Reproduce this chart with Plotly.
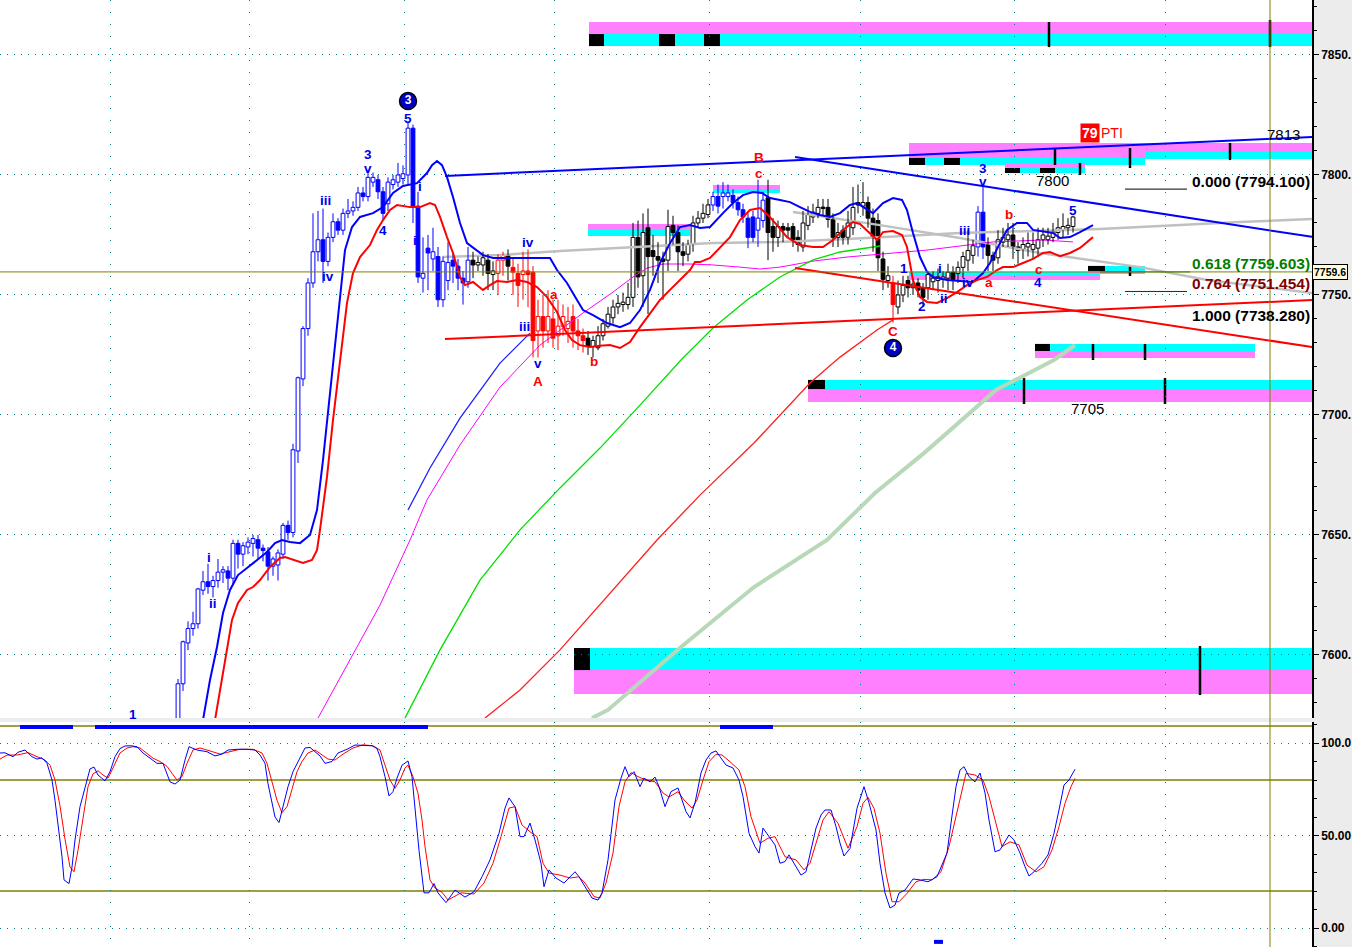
import plotly.graph_objects as go

FONT = "Liberation Sans, Arial, sans-serif"
BLUE, RED, BLACK = "#0000ff", "#ff0000", "#000000"
PINK, CYAN = "#ff80ff", "#00ffff"
OLIVE, TEAL = "#808000", "#008080"

# ---------------- candles (one bar every 5 time units) ----------------
bar_first, bar_step = 178, 5
opens = [7570,7588,7605,7611,7613,7627,7630.5,7628.5,7631,7634.5,
         7635,7632,7646.5,7642,7645,7646.5,7648,7644.5,7643,7637,
         7637.5,7642,7654,7651,7685,7715,7736,7755,7768,7773,
         7764,7774,7780.5,7777,7784,7785,7786.5,7792.5,7791,7797,
         7798,7793,7788,7796,7797,7798.5,7800,7819.5,7787,7757,
         7769.5,7765,7766,7748,7756,7764.5,7762,7757,7755.5,7764.5,
         7762.5,7762.5,7764.5,7758.5,7759,7764.5,7766.5,7761.5,7759,7758.5,
         7760,7759.5,7735,7741,7735,7740,7733,7737,7736,7741,
         7735,7733,7732,7728.5,7728,7733,7737,7740.5,7745,7746,
         7746,7749,7774,7758,7778,7768.5,7766,7765,7764.5,7779,
         7776,7768,7767,7771,7780,7782,7783.5,7787.5,7791,7791,
         7791,7791.5,7788.5,7785.5,7782,7782.5,7777,7781,7790.5,7778.5,
         7774,7778.5,7778,7778.5,7774,7770,7779,7782.5,7784,7786.5,
         7786.5,7781.5,7774,7777,7774,7778,7788.5,7787,7788.5,7782,
         7781,7765,7756,7755,7745,7750,7756,7753,7755,7753,
         7753,7755.5,7756,7756.5,7757,7759.5,7759,7761.5,7764.5,7766.5,
         7770,7784.5,7771,7766.5,7765.5,7772,7773,7775,7770,7769,
         7770,7769,7769.5,7773,7773,7774,7776,7777,7778,7778.5]
highs = [7590,7606,7614,7618,7628,7635,7638,7633,7640,7637,
         7637,7648,7648,7647,7649,7650,7650,7646,7645,7641,
         7644,7655,7656,7688,7716,7737,7757,7784,7785,7786,
         7776,7784,7782,7786,7790,7789,7795,7795,7802,7801,
         7800,7795,7799,7800,7805,7804,7822,7821,7793,7774,
         7775,7778,7770,7766,7772,7768,7765,7760,7770,7768,
         7766,7768,7767,7764,7767,7768,7769,7765,7763,7768,
         7769,7762,7748,7750,7752,7748,7748,7746,7745,7746,
         7740,7736,7735,7733,7737,7740,7745,7748,7750,7751,
         7755,7780,7781,7784,7786,7775,7772,7768,7785.5,7783,
         7779,7772,7773,7783,7785,7788,7790,7793,7796,7797,
         7796,7794,7791,7788,7784,7785,7798,7793,7798,7782,
         7781,7780,7780,7780,7777,7785,7787,7788,7790,7790,
         7790,7784,7780,7779,7785,7795,7796,7797,7791,7786,
         7784,7768,7762,7758,7756,7758,7758,7757,7757,7755,
         7760,7760,7761,7760,7763,7762,7764,7768,7777,7773,
         7787,7796,7774,7768,7777,7778,7780,7780,7772,7774,
         7776,7776,7778,7778,7778,7780,7782,7784,7782,7783]
lows = [7565,7585,7602,7608,7611,7625,7625.5,7624,7628,7630,
        7627,7629,7636,7637,7642,7641,7640,7639,7631,7633,
        7631,7640,7648,7649,7680,7712,7733,7753,7764,7755,
        7762,7772,7775,7775,7782,7783,7785,7789,7789,7795,
        7790,7781,7785,7794,7795,7796,7796,7780,7755,7751,
        7752,7760,7745,7745,7752,7755,7752,7746,7753,7757,
        7760,7758,7752,7752,7750,7758,7756,7750,7745,7748,
        7745,7724,7724,7728,7730,7728,7727,7733,7730,7728,
        7727,7726,7725,7724,7727,7731,7736,7738,7742,7743,
        7744,7745,7753,7745,7742,7758,7755,7748,7760,7771,
        7760,7762,7764,7768,7778,7780,7782,7785,7784,7786,
        7789,7786,7783,7780,7769.5,7772,7770,7778,7764.5,7768,
        7770,7772,7774,7770,7768,7768,7777,7780,7782,7783,
        7778,7770,7770,7771,7771,7775,7784,7783,7778,7768,
        7760,7752,7753,7738.5,7742,7747,7749,7750,7749,7745,
        7748,7752,7751,7753,7752,7752,7755,7757,7760,7763,
        7766,7765,7760,7760,7763,7770,7770,7765,7763,7765,
        7766,7765,7766,7770,7771,7772,7773,7774,7775,7776]
closes = [7588,7605.5,7611,7613,7627.5,7630.5,7628.5,7631,7634.5,7635.5,
          7632,7646.5,7642,7645.5,7647,7648.5,7644.5,7643.5,7637,7640,
          7642.5,7654,7651,7685.5,7715.5,7736,7755,7768,7773,7764,
          7774,7780.5,7777,7784,7785,7786.5,7792.5,7791,7799,7799,
          7793,7784,7797,7798,7800,7800.5,7819.5,7787,7757.5,7759,
          7767.5,7768,7748,7764,7763.5,7762,7757,7755,7764.5,7762.5,
          7763.5,7765.5,7759,7760,7764.5,7766.5,7762,7759.5,7754,7760,
          7758.5,7731,7741,7735,7741,7732,7737,7741,7739,7735,
          7733,7731,7728.5,7731,7733,7738,7742,7745,7746.5,7747,
          7749,7774,7757.5,7776,7766,7766,7764.5,7764,7778.5,7776,
          7768,7766.5,7771,7780,7782,7784,7787.5,7791,7787,7792.5,
          7792.5,7788.5,7785.5,7782.5,7774,7774,7782,7789.5,7776,7774,
          7778.5,7777,7777,7773,7771,7780,7783.5,7784.5,7786.5,7786,
          7781.5,7774,7776,7774,7780,7786.5,7787.5,7788.5,7782,7774,
          7765.5,7756.5,7758,7746,7750,7754,7753,7754.5,7752,7749,
          7758.5,7757,7757.5,7757.5,7759.5,7756.5,7761.5,7766,7768.5,7770.5,
          7784.5,7770,7766.5,7764.5,7773,7774,7775,7770,7768.5,7771,
          7771.5,7771,7773,7775,7774.5,7776.5,7778,7778.5,7779,7782.5]
color_runs = [("b", 59), ("k", 5), ("r", 2), ("k", 1), ("r", 15), ("k", 25),
              ("b", 11), ("k", 25), ("r", 1), ("k", 16), ("b", 2), ("k", 18)]

# ---------------- overlay lines (time, price) ----------------
upper_t = [203,210,217,223,230,238,247,257,267,275,282,290,300,310,317,323,330,335,340,345,
           352,360,373,383,393,403,417,427,432,437,442,447,453,460,467,477,483,493,507,527,
           550,557,567,577,583,593,607,620,630,640,650,660,670,680,690,700,710,723,733,743,
           753,762,770,780,790,800,810,820,830,840,850,857,863,873,883,893,902,907,913,920,
           927,933,947,960,973,983,990,1000,1007,1017,1027,1033,1043,1053,1060,1070,1080,1093]
upper_v = [7572.9,7589.6,7603.3,7617.5,7627.1,7633.3,7636.2,7639.6,7642.9,7646.6,
           7647.9,7647.1,7646.6,7650,7660.4,7681.2,7709.2,7728.3,7750.8,7768.7,
           7778.3,7782.5,7784.1,7786.6,7792.5,7795.4,7796.6,7800.8,7804.1,7805.8,
           7804.1,7799.1,7790.8,7780,7771.6,7768.7,7766.6,7765.4,7765.4,7765.4,
           7765.4,7760.4,7755,7747.9,7743.7,7741.6,7738.3,7736.6,7738.3,7743.7,
           7752.1,7763.3,7771.6,7778.3,7779.1,7777.9,7778.3,7784.1,7788.3,7791.6,
           7792.9,7792.5,7790.4,7789.6,7788.7,7786.6,7784.6,7783.3,7782.5,7784.1,
           7787.5,7788.3,7786.6,7784.1,7788.3,7790.4,7789.6,7785.4,7775.8,7765.8,
           7759.6,7757.5,7756.2,7755.8,7755.4,7759.1,7763.3,7771.6,7777.1,7780,
           7780,7777.1,7776.6,7775.8,7773.7,7774.1,7776.2,7779.1]
lower_t = [215,222,227,232,238,247,253,260,270,280,285,293,303,312,317,320,327,333,340,347,
           353,360,370,377,383,390,397,410,420,430,435,440,447,453,460,465,473,483,490,497,
           507,517,527,537,547,557,565,572,580,590,600,610,620,630,640,650,660,670,680,690,
           695,700,710,720,730,740,750,760,768,777,787,800,813,823,833,843,853,860,870,877,
           883,893,902,907,913,920,927,937,947,957,967,977,987,997,1003,1013,1023,1033,1043,1050,
           1060,1070,1080,1093]
lower_v = [7572.9,7589.6,7603.3,7614.6,7621.7,7627.1,7628.3,7631.2,7636.7,7640.4,
           7640.8,7639.6,7638.3,7639.6,7643.7,7652.1,7674.2,7697.9,7722.9,7746.7,
           7759.1,7765.8,7770.8,7777.1,7781.2,7785.4,7787.5,7786.6,7786.6,7788.3,
           7787.5,7782.5,7774.1,7767.5,7757.5,7754.1,7755.4,7752.1,7754.1,7755.8,
           7755.4,7756.2,7755.4,7753.3,7749.1,7742.9,7735.4,7731.2,7729.1,7728.3,
           7728.8,7729.1,7727.9,7730.4,7736.6,7742.5,7747.9,7752.1,7756.2,7760.4,
           7763.7,7763.7,7765.4,7769.6,7774.1,7781.2,7785.4,7786.2,7783.3,7779.1,
           7774.1,7770.8,7770,7770,7772.9,7777.1,7780.4,7779.6,7775.4,7772.9,
           7776.2,7776.6,7775,7770,7756.2,7749.1,7747.1,7746.7,7748.7,7751.2,
           7754.1,7756.2,7757.5,7760.4,7761.6,7761.6,7763.3,7765,7767.5,7767.9,
           7766.2,7767.5,7769.6,7774.1]
magenta_t = [318,350,380,410,427,460,500,540,580,613,633,647,663,690,713,740,760,780,813,847,880,927,993,1043,1073]
magenta_v = [7573.7,7597.9,7620.8,7647.9,7664.6,7687.5,7711.6,7729.1,7741.6,7751.2,7757.5,7761.2,7762.9,
             7762.9,7762.5,7761.6,7760.8,7761.6,7764.1,7765.8,7767.1,7768.7,7772.1,7772.9,7772.1]
bluex_t = [408,430,460,500,530]
bluex_v = [7660.4,7677.9,7698.7,7721.6,7734.1]
greenx_t = [405,440,480,520,560,600,640,681,713,747,780,813,840,873,880]
greenx_v = [7573.7,7602.1,7631.2,7652.1,7669.6,7686.2,7704.1,7722.9,7736.2,7747.9,7757.5,7764.6,7767.9,7770,7770.4]
redx_t = [485,520,560,600,657,700,754,810,840,877,893]
redx_v = [7573.7,7585.4,7602.1,7620.8,7647.9,7666.6,7688.3,7713.3,7724.1,7735.4,7739.6]
slow_t = [592,608,681,754,827,875,924,996,1054,1075]
slow_v = [7573.7,7577.1,7603.3,7628.3,7647.9,7667.5,7684.1,7710.4,7722.9,7729.1]
gray1_t = [443,500,560,647,713,780,847,960,1100,1240,1312]
gray1_v = [7765.8,7766.6,7768.3,7770,7771.6,7772.1,7773.3,7775.8,7777.5,7780.4,7781.6]
gray2_t = [793,880,960,1040,1140,1207,1312]
gray2_v = [7784.6,7779.1,7773.7,7767.5,7761.6,7756.2,7750.8]

trend_t0 = [445, 795, 445, 795]
trend_v0 = [7799.6, 7807.5, 7731.6, 7761.2]
trend_t1 = [1312, 1312, 1312, 1312]
trend_v1 = [7815.8, 7774.2, 7747.9, 7728.3]
trend_col = [BLUE, BLUE, RED, RED]

last_price = 7759.6
cursor_t = 1270

# ---------------- zones ----------------
zone_t0 = [589,589,589,659,704, 909,909,909,944, 1145,1145, 1005,1005,1005,1040,
           588,588, 713,713, 909,909, 1088,1088,1088, 1035,1035,1035, 808,808,808, 574,574,574]
zone_t1 = [1312,1312,604,675,720, 1145,1145,925,960, 1312,1312, 1085,1085,1020,1055,
           690,690, 780,780, 1100,1100, 1145,1145,1105, 1255,1255,1050, 1312,1312,825, 1312,1312,590]
zone_lo = [7858.7,7853.7,7853.7,7853.7,7853.7, 7807.1,7804.15,7804.15,7804.15, 7809.6,7806.65,
           7802.9,7800.8,7800.8,7800.8, 7777.1,7774.6, 7794.15,7792.5, 7758.3,7756.2,
           7760,7758.75,7760, 7726.65,7723.7,7726.65, 7710.4,7705.4,7710.8, 7593.7,7583.7,7593.7]
zone_hi = [7863.7,7858.7,7858.7,7858.7,7858.7, 7813.3,7807.1,7807.1,7807.1, 7813.3,7809.6,
           7805,7802.9,7802.9,7802.9, 7779.6,7777.1, 7795.8,7794.15, 7759.6,7758.3,
           7762.1,7760,7762.1, 7729.6,7726.65,7729.6, 7714.6,7710.4,7714.6, 7602.9,7593.7,7602.9]
zone_kind = ["p","c","k","k","k", "p","c","k","k", "p","c", "p","c","k","k",
             "p","c", "p","c", "c","p", "c","p","k", "c","p","k", "c","p","k", "c","p","k"]
tick_t = [1049,1270,1055,1130,1230,1080,1093,1145,1024,1165,1200,1130]
tick_lo = [7853.3,7853.3,7804.15,7802.9,7806.2,7800,7722.9,7722.9,7704.6,7704.6,7583.3,7757.9]
tick_hi = [7863.7,7864.6,7811.2,7811.2,7813.3,7805,7729.6,7729.6,7715.4,7715.4,7603.7,7762.1]

# ---------------- fibonacci ----------------
fib_ratio = ["0.000", "0.618", "0.764", "1.000"]
fib_level = [7794.1, 7759.603, 7751.454, 7738.28]
fib_color = ["#000000", "#008000", "#800000", "#000000"]
fib_line_t0 = [1125, 1100, 1125, None]
fib_line_t1 = [1187, 1190, 1187, None]
fib_text_t = 1190

# ---------------- wave labels ----------------
wave_text = ["5","3","v","iii","iv","4","i","i","i","ii","1","iv","iii","v","A","a","b","B","c",
             "1","2","i","ii","iii","iv","3","v","a","b","c","4","5","C"]
wave_t = [408,368,368,325,328,383,420,415,209,213,133,528,524,538,538,554,594,759,759,
          904,922,940,944,964,968,983,983,989,1009,1039,1038,1073,893]
wave_v = [7823.7,7808.7,7802.9,7789.2,7757.5,7776.7,7795,7772.9,7640.8,7621.3,7575.4,7771.7,7736.7,7721.3,
          7714.1,7750.4,7722.1,7807.1,7800.8,7761.2,7745,7761.2,7748.7,7776.7,7755.4,7802.9,7797.1,
          7755,7783.7,7760.8,7755,7785.4,7734.6]
wave_col = ["b","b","b","b","b","b","b","b","b","b","b","b","b","b","r","r","r","r","r",
            "b","b","b","b","b","b","b","b","r","r","r","b","b","r"]
circle_text = ["3", "4"]
circle_t = [408, 893]
circle_v = [7830.8, 7727.9]

price_text = ["7813", "7800", "7705"]
price_t = [1283, 1052, 1087]
price_v = [7817, 7797.9, 7702.9]

# ---------------- stochastic ----------------
stoch_k_t = [0,5,13,18,25,32,37,42,47,52,55,59,62,64,69,72,75,80,85,90,94,98,105,110,115,120,125,131,137,143,
             150,157,163,167,170,175,180,185,189,197,207,215,222,228,237,247,255,260,265,268,272,275,279,283,
             288,293,298,305,310,315,320,325,332,338,347,355,363,372,377,380,385,389,393,397,402,408,412,415,
             419,424,429,434,438,446,455,465,474,482,490,499,505,509,515,520,524,530,535,541,544,549,556,564,
             570,575,579,585,592,598,602,608,615,621,625,629,634,640,644,650,655,659,665,671,678,682,686,690,
             695,701,706,711,716,720,726,733,739,743,749,755,759,763,768,775,780,785,789,796,801,806,810,816,
             821,825,831,836,840,844,850,857,864,869,876,880,885,890,895,899,905,913,920,928,937,943,947,951,
             956,960,964,969,975,980,985,989,995,1000,1009,1014,1020,1025,1029,1034,1042,1048,1054,1059,1064,
             1069,1075]
stoch_k = [94.6,94.7,92.6,95,96.2,92.6,91.3,92,89,80,69,51,38.5,26,24,33,47.6,65.6,76,86,
           87,82.7,79.5,84.5,92.6,97,98.4,98.5,98,94.6,91.8,89,89,83.6,79,77.8,80,90.8,98,96.2,
           95.3,93,94,96.2,96.6,96.6,96.2,93.5,89,78,67.4,60,57,65.6,76.4,84.5,90,97.3,97.6,95.3,
           93,89,90,94.6,96.6,98.9,98.9,98.5,97,92.6,81.8,71.4,73.7,81,88,90.3,81.8,63.8,42,19,
           19,24,19,13.7,20.5,16.7,19.6,27.7,36.8,51.2,64.8,70.3,65.6,49.4,49.4,56.7,47.6,35,22.3,31.4,
           27,24.3,27.7,30.4,27.7,22.3,16.2,15.1,18.9,36.8,69.2,81,87.2,81.8,84.5,76.4,81,79,81.6,76.4,
           65.6,73.7,75.7,69.2,62.9,59.5,67.6,83.8,90.8,94.6,95.7,92.6,88.1,86.5,80,71,51.2,44,40.5,54,
           50.3,44.9,35,35.9,39.5,33.1,28.6,30.4,40.5,54,61.1,63.8,63.8,54.8,45.9,38.9,43,64.7,76.4,67.6,
           53,35,18.9,10.8,12.4,18.9,20.5,26.5,26,25,27.7,35,40.5,56.7,76.4,85.4,87.2,81.8,79,83.8,
           73,58.4,41.2,42.2,50.3,47.6,40.5,33.1,28.1,30.4,35,39.5,51.2,63.8,77.3,80,85.8]
stoch_d_t = [0,7,17,28,37,45,50,55,60,65,70,74,78,83,88,93,98,103,108,113,120,127,133,140,147,153,160,167,172,177,
             182,187,193,200,210,220,230,240,253,262,267,272,277,282,287,292,297,302,308,315,322,328,335,343,353,
             363,373,380,385,390,395,400,405,408,413,418,422,425,430,435,442,448,461,474,484,493,501,509,515,522,
             530,537,543,549,560,570,579,585,594,600,606,613,619,625,631,638,646,655,663,669,678,684,692,697,703,
             709,716,722,730,739,745,751,760,768,775,785,796,804,810,817,823,829,838,848,857,863,868,874,880,886,
             892,899,907,916,924,932,941,949,958,966,975,983,989,996,1002,1010,1019,1027,1036,1044,1052,1059,1065,
             1071,1075]
stoch_d = [91.3,93.5,93.5,94.8,92.6,90.8,88,80,66,48,33,30.4,42,60,76.4,83.3,85,82.7,81,86.5,
           94.6,97.3,98,97.3,94.6,91.8,90,87.4,83.6,80,81.8,89,96.2,97.3,95.7,94,95.3,96.6,96.6,94.6,
           89,79,69,62.3,65.6,75,84.5,90,94.6,96.2,93.5,91.3,90.8,94,97.3,99,98.5,96.2,88,80,
           75.5,80,86.5,88,81.8,72.8,58.4,44,26,21.6,19.3,15.1,19,18.4,24.3,35,49.4,64.8,65.6,55.7,
           52,49.4,35,29.7,28.6,27,27.7,24.3,17,16.2,24.3,40.5,65.6,79,84,81.8,80,79,73,70.8,
           73.7,69.2,64.8,69.2,80,89.9,93.9,93.5,89.9,85.4,76.4,60.2,45.8,48.5,49.4,38.5,36.8,31.4,35,47.6,
           58.4,62.9,56.6,43.1,54.8,67.4,70.6,64.7,51.2,29.5,14.2,14.2,18.7,25,26.3,26,30.4,44,65.6,83.6,
           82.7,80,71,56.6,44,46.6,44.9,34,30.4,33.1,42.2,54.8,67.4,76.4,80.9]
signal_t0 = [20, 95, 720]
signal_t1 = [73, 428, 773]
signal_level = 108.6
low_signal = (934, 943, -7.5)
stoch_bands = [20, 80, 109.2]

grid_t = [110, 249, 404, 554, 709, 860, 1014, 1165]
price_ticks = [7600, 7650, 7700, 7750, 7800, 7850]
stoch_ticks = [0, 50, 100]
stoch_tick_text = ["0.00", "50.00", "100.0"]

# ---------------- build figure ----------------
PAL = {"b": BLUE, "k": BLACK, "r": RED}
LABEL_PAL = {"b": "#0000e8", "r": "#ff0000"}
ZFILL = {"p": PINK, "c": CYAN, "k": BLACK}
bar_t = [bar_first + bar_step * i for i in range(len(opens))]
bar_col = "".join(k * n for k, n in color_runs)

fig = go.Figure()


def add_line(t, v, color, width, yaxis="y", xaxis="x"):
    fig.add_trace(go.Scatter(x=t, y=v, mode="lines", line=dict(color=color, width=width),
                             xaxis=xaxis, yaxis=yaxis, hoverinfo="skip", showlegend=False))


# background overlay lines
add_line(slow_t, slow_v, "#b8d8b8", 4)
add_line(gray1_t, gray1_v, "#c0c0c0", 2.5)
add_line(gray2_t, gray2_v, "#c0c0c0", 2.5)
add_line(magenta_t, magenta_v, "#ff00ff", 1)
add_line(greenx_t, greenx_v, "#00e000", 1.3)
add_line(redx_t, redx_v, "#ff2020", 1.3)
add_line(bluex_t, bluex_v, "#2020ff", 1.3)

# candle wicks (split above / below body so hollow bodies stay clean)
for key in "bkr":
    xs, ys = [], []
    for t, o, h, l, c, k in zip(bar_t, opens, highs, lows, closes, bar_col):
        if k != key:
            continue
        top, bot = max(o, c), min(o, c)
        xs += [t, t, None, t, t, None]
        ys += [top, h, None, l, bot, None]
    add_line(xs, ys, PAL[key], 1)

# candle bodies
fig.add_trace(go.Bar(
    x=bar_t,
    base=[min(o, c) for o, c in zip(opens, closes)],
    y=[max(abs(c - o), 0.6) for o, c in zip(opens, closes)],
    width=3.8,
    marker=dict(color=["#ffffff" if c > o else PAL[k] for o, c, k in zip(opens, closes, bar_col)],
                line=dict(color=[PAL[k] for k in bar_col], width=1)),
    hoverinfo="skip", showlegend=False))

# bands
add_line(upper_t, upper_v, BLUE, 2)
add_line(lower_t, lower_v, RED, 2)

# trend lines
for t0, v0, t1, v1, col in zip(trend_t0, trend_v0, trend_t1, trend_v1, trend_col):
    add_line([t0, t1], [v0, v1], col, 2)

# fib short lines
for t0, t1, lev, col in zip(fib_line_t0, fib_line_t1, fib_level, fib_color):
    if t0 is not None:
        add_line([t0, t1], [lev, lev], col, 1)

# circled wave labels
fig.add_trace(go.Scatter(x=circle_t, y=circle_v, mode="markers+text", text=circle_text,
                         textposition="middle center",
                         textfont=dict(family=FONT, size=12, color="#ffffff", weight="bold"),
                         marker=dict(size=17, color="#0000c8", line=dict(color=BLACK, width=1.5)),
                         hoverinfo="skip", showlegend=False))

# stochastic
add_line(stoch_d_t, stoch_d, RED, 1, yaxis="y2", xaxis="x2")
add_line(stoch_k_t, stoch_k, BLUE, 1, yaxis="y2", xaxis="x2")
for t0, t1 in zip(signal_t0, signal_t1):
    add_line([t0, t1], [signal_level, signal_level], BLUE, 4, yaxis="y2", xaxis="x2")
add_line([low_signal[0], low_signal[1]], [low_signal[2], low_signal[2]], BLUE, 4, yaxis="y2", xaxis="x2")

shapes = []
for t0, t1, lo, hi, kind in zip(zone_t0, zone_t1, zone_lo, zone_hi, zone_kind):
    shapes.append(dict(type="rect", xref="x", yref="y", x0=t0, x1=t1, y0=lo, y1=hi,
                       fillcolor=ZFILL[kind], line=dict(width=0), layer="below"))
for t, lo, hi in zip(tick_t, tick_lo, tick_hi):
    shapes.append(dict(type="line", xref="x", yref="y", x0=t, x1=t, y0=lo, y1=hi,
                       line=dict(color=BLACK, width=2.5), layer="below"))
shapes.append(dict(type="line", xref="paper", yref="y", x0=0, x1=1, y0=last_price, y1=last_price,
                   line=dict(color=OLIVE, width=1), layer="above"))
for lev in stoch_bands:
    shapes.append(dict(type="line", xref="paper", yref="y2", x0=0, x1=1, y0=lev, y1=lev,
                       line=dict(color=OLIVE, width=1.5), layer="below"))
shapes.append(dict(type="line", xref="x", yref="paper", x0=cursor_t, x1=cursor_t, y0=0, y1=1,
                   line=dict(color=OLIVE, width=1), layer="above"))

annotations = []
for txt, t, v, c in zip(wave_text, wave_t, wave_v, wave_col):
    annotations.append(dict(x=t, y=v, xref="x", yref="y", text=txt, showarrow=False,
                            font=dict(family=FONT, size=13.5, color=LABEL_PAL[c], weight="bold")))
for txt, t, v in zip(price_text, price_t, price_v):
    annotations.append(dict(x=t, y=v, xref="x", yref="y", text=txt, showarrow=False,
                            font=dict(family=FONT, size=15, color=BLACK)))
for r, lev, col in zip(fib_ratio, fib_level, fib_color):
    annotations.append(dict(x=fib_text_t, y=lev, xref="x", yref="y", xanchor="left", yshift=8,
                            text=f"{r} ({lev:.3f})", showarrow=False,
                            font=dict(family=FONT, size=15.5, color=col, weight="bold")))
annotations.append(dict(x=1090, y=7817.5, xref="x", yref="y", text="79", showarrow=False,
                        bgcolor="#ff0000", borderpad=1,
                        font=dict(family=FONT, size=14, color="#ffffff", weight="bold")))
annotations.append(dict(x=1099, y=7817.5, xref="x", yref="y", xanchor="left", text="PTI", showarrow=False,
                        font=dict(family=FONT, size=14, color=RED)))
annotations.append(dict(x=1, y=last_price, xref="paper", yref="y", xanchor="left", xshift=0,
                        text=f"{last_price:.1f}", showarrow=False, bgcolor="#ffffe0",
                        bordercolor=BLACK, borderwidth=1, borderpad=1,
                        font=dict(family=FONT, size=10.5, color=BLACK, weight="bold")))

top_split = 1 - 718 / 947
bot_split = 1 - 722 / 947
axis_font = dict(family=FONT, size=12, color=BLACK, weight="bold")

fig.update_layout(
    width=1352, height=947,
    margin=dict(l=0, r=40, t=0, b=0, pad=0),
    paper_bgcolor="#ececec", plot_bgcolor="#ffffff",
    showlegend=False, barmode="overlay",
    shapes=shapes, annotations=annotations,
    xaxis=dict(domain=[0, 1], range=[0, 1312], anchor="y", tickvals=grid_t, showticklabels=False,
               ticks="", showgrid=True, gridcolor=TEAL, gridwidth=1, griddash="1px,11px",
               zeroline=False, showline=False, fixedrange=True),
    xaxis2=dict(domain=[0, 1], range=[0, 1312], anchor="y2", matches="x", tickvals=grid_t,
                showticklabels=False, ticks="", showgrid=True, gridcolor=TEAL, gridwidth=1,
                griddash="1px,11px", zeroline=False, showline=False),
    yaxis=dict(domain=[top_split, 1], range=[7872.9 - 718 / 2.4, 7872.9], side="right", anchor="x",
               tickvals=price_ticks, ticktext=[f"{v}." for v in price_ticks],
               ticks="outside", ticklen=5, tickcolor=BLACK, tickfont=axis_font,
               showline=True, linecolor=BLACK, linewidth=1.5, showgrid=True, gridcolor=TEAL,
               griddash="1px,6px", zeroline=False, automargin=False,
               minor=dict(tickmode="linear", tick0=7600, dtick=10, ticks="outside", ticklen=3,
                          tickcolor=BLACK, showgrid=False)),
    yaxis2=dict(domain=[0, bot_split], range=[-10.27, 111.35], side="right", anchor="x2",
                tickvals=stoch_ticks, ticktext=stoch_tick_text,
                ticks="outside", ticklen=5, tickcolor=BLACK, tickfont=axis_font,
                showline=True, linecolor=BLACK, linewidth=1.5, showgrid=True, gridcolor=TEAL,
                griddash="1px,6px", zeroline=False, automargin=False,
                minor=dict(tickmode="linear", tick0=0, dtick=10, ticks="outside", ticklen=3,
                           tickcolor=BLACK, showgrid=False)),
)

fig.write_html("out.html", config={"displayModeBar": False},
               post_script="document.body.style.margin='0px';document.body.style.overflow='hidden';")
